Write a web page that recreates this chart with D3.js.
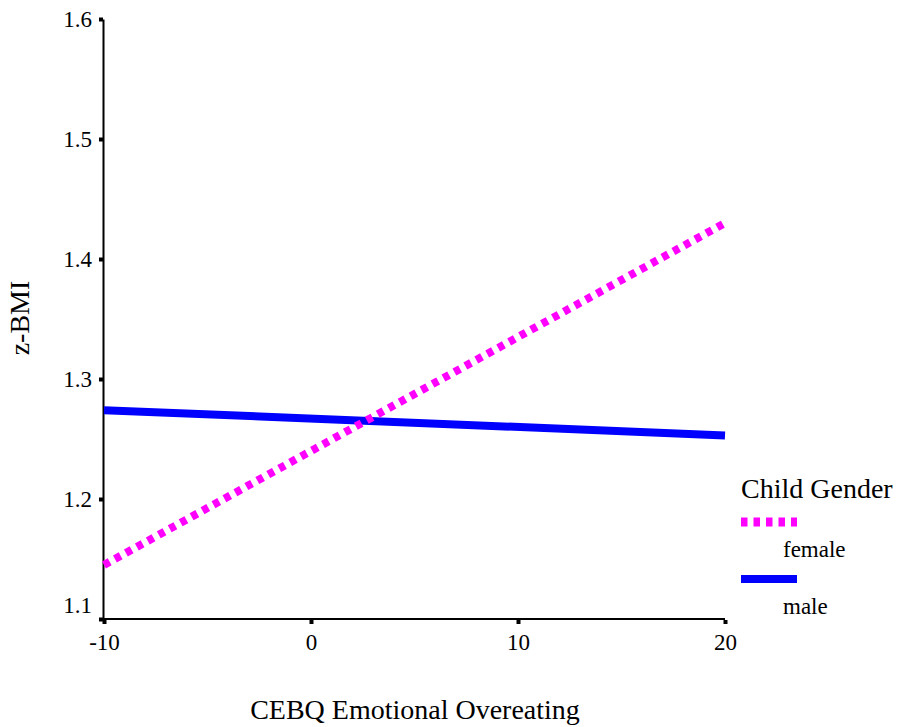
<!DOCTYPE html>
<html>
<head>
<meta charset="utf-8">
<style>
  body { margin: 0; background: #fff; }
  svg text { font-family: "Liberation Serif", "Times New Roman", serif; fill: #000; }
</style>
</head>
<body>
<div id="chart"></div>
<script src="https://d3js.org/d3.v7.min.js"></script>
<script>
  // x values where the fitted lines are evaluated
  const xVals = [-10, 20];
  const femaleVals = [1.145, 1.430];
  const maleVals = [1.274, 1.253];
  const xTicks = [-10, 0, 10, 20];
  const yTicks = [1.1, 1.2, 1.3, 1.4, 1.5, 1.6];
  const seriesNames = ["female", "male"];
  const seriesColors = ["#ff00ff", "#0000ff"];

  const W = 897, H = 727;

  const svg = d3.select("#chart").append("svg")
    .attr("width", W)
    .attr("height", H);

  const x = d3.scaleLinear().domain([-10, 20]).range([104, 725]);
  const y = d3.scaleLinear().domain([1.1, 1.6]).range([619, 19]);

  // y axis
  const yAxis = svg.append("g")
    .attr("transform", "translate(103,0)")
    .call(d3.axisLeft(y).tickValues(yTicks).tickFormat(d3.format(".1f"))
      .tickSizeInner(4).tickSizeOuter(0).tickPadding(7));
  yAxis.select(".domain").attr("stroke", "#000").attr("stroke-width", 2);
  yAxis.selectAll(".tick line").attr("stroke", "#000").attr("stroke-width", 4);
  yAxis.selectAll(".tick text")
    .style("font-size", "23px")
    .attr("dy", d => d === 1.1 ? "-0.28em" : "0.32em");

  // x axis (plain hyphen for the minus sign, as in the original)
  const xAxis = svg.append("g")
    .attr("transform", "translate(0,619)")
    .call(d3.axisBottom(x).tickValues(xTicks).tickFormat(d => String(d))
      .tickSizeInner(5).tickSizeOuter(0).tickPadding(10));
  xAxis.select(".domain").attr("stroke", "#000").attr("stroke-width", 2)
    .attr("d", "M102,0H" + x(20));
  xAxis.selectAll(".tick line").attr("stroke", "#000").attr("stroke-width", 4)
    .attr("y1", 1);
  xAxis.selectAll(".tick text").style("font-size", "23px");

  // axis titles
  svg.append("text")
    .attr("x", 415).attr("y", 719)
    .attr("text-anchor", "middle")
    .style("font-size", "28px")
    .text("CEBQ Emotional Overeating");

  svg.append("text")
    .attr("transform", "translate(29,318) rotate(-90)")
    .attr("text-anchor", "middle")
    .style("font-size", "28px")
    .text("z-BMI");

  // lines
  const line = d3.line()
    .x((d, i) => x(xVals[i]))
    .y(d => y(d));

  svg.append("path")
    .datum(maleVals)
    .attr("d", line)
    .attr("fill", "none")
    .attr("stroke", seriesColors[1])
    .attr("stroke-width", 8);

  svg.append("path")
    .datum(femaleVals)
    .attr("d", line)
    .attr("fill", "none")
    .attr("stroke", seriesColors[0])
    .attr("stroke-width", 8)
    .attr("stroke-dasharray", "6.5,6");

  // legend
  const legend = svg.append("g");
  legend.append("text")
    .attr("x", 741).attr("y", 498)
    .style("font-size", "28px")
    .text("Child Gender");

  seriesNames.forEach((name, i) => {
    const ly = 522 + i * 57;
    legend.append("line")
      .attr("x1", 741).attr("x2", 797)
      .attr("y1", ly).attr("y2", ly)
      .attr("stroke", seriesColors[i])
      .attr("stroke-width", i === 0 ? 9 : 8)
      .attr("stroke-dasharray", i === 0 ? "6.5,6" : null);
    legend.append("text")
      .attr("x", 783).attr("y", ly + 35)
      .style("font-size", "23px")
      .text(name);
  });
</script>
</body>
</html>
